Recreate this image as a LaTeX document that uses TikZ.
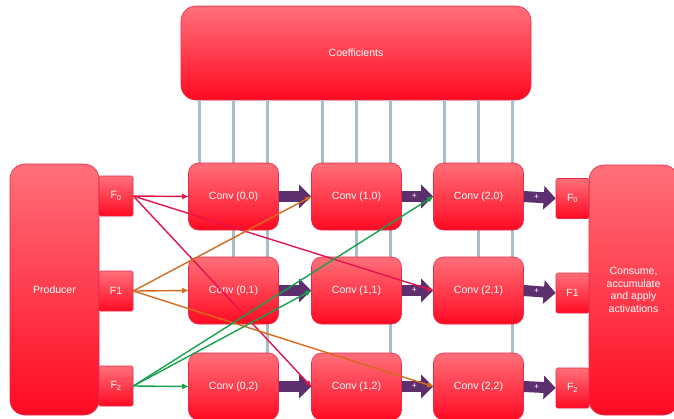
\documentclass[tikz,border=0pt]{standalone}
\usepackage{fontspec}
\setmainfont{Liberation Sans}
\usetikzlibrary{arrows.meta}
\definecolor{boxtop}{HTML}{FF7079}
\definecolor{boxbot}{HTML}{FF0A22}
\definecolor{boxedge}{HTML}{E8294A}
\definecolor{flowpurple}{HTML}{5E2F6E}
\definecolor{feedgray}{HTML}{A8BECB}
\definecolor{lred}{HTML}{E3134B}
\definecolor{lorange}{HTML}{D46A1C}
\definecolor{lgreen}{HTML}{17A14A}
\begin{document}
\begin{tikzpicture}[x=1pt,y=-1pt,
  redbox/.style={draw=boxedge, line width=0.6pt, top color=boxtop, bottom color=boxbot, text=white, inner sep=0pt, align=center, font=\fontsize{10.5}{12.5}\selectfont},
  convbox/.style={redbox, rounded corners=10pt, minimum width=90pt, minimum height=67pt},
  bigbox/.style={redbox, rounded corners=15pt},
  fbox/.style={redbox, rounded corners=1.5pt, minimum width=34pt, minimum height=40pt},
  feed/.style={draw=feedgray, line width=2.2pt, -{Triangle[length=5pt,width=6pt]}},
  flow/.style={draw=flowpurple, line width=11pt, -{Triangle[length=12pt,width=23pt]}},
  plus/.style={text=white, font=\fontsize{8.5}{9}\selectfont, inner sep=0pt},
  link/.style={line width=1.4pt, -{Triangle[length=6pt,width=5pt]}}
]
\useasboundingbox (0,0) rectangle (674,418);
\begin{scope}
\clip (0,0) rectangle (674,418);
% big boxes
\node[bigbox, minimum width=350pt, minimum height=94pt] (coef) at (356,53) {Coefficients};
\node[bigbox, minimum width=89pt, minimum height=251pt] (prod) at (54.5,289.5) {Producer};
\node[bigbox, minimum width=89pt, minimum height=250pt] (cons) at (633.5,290) {Consume,\\accumulate\\and apply\\activations};
% conv positions
\foreach \c/\x in {0/233.5,1/356.5,2/478.5}{
  \foreach \r/\y in {0/196.5,1/290.5,2/386.5}{
    \path (\x,\y) coordinate (p\c\r);
  }
}
% feed lines from coefficients
\foreach \c in {0,1,2}{
  \coordinate (ga\c) at ([xshift=-34pt,yshift=-33.5pt]p\c0);
  \coordinate (gb\c) at ([yshift=-33.5pt]p\c1);
  \coordinate (gc\c) at ([xshift=34pt,yshift=-33.5pt]p\c2);
  \draw[feed] (ga\c |- coef.south) -- (ga\c);
  \draw[feed] (gb\c |- coef.south) -- (gb\c);
  \draw[feed] (gc\c |- coef.south) -- (gc\c);
}
% conv boxes
\foreach \c in {0,1,2}{
  \foreach \r in {0,1,2}{
    \node[convbox] (c\c\r) at (p\c\r) {Conv (\c,\r)};
  }
}
% producer F boxes
\node[fbox] (pf0) at (116,196) {F\textsubscript{0}};
\node[fbox] (pf1) at (116,291) {F1};
\node[fbox] (pf2) at (116,386) {F\textsubscript{2}};
% consumer F boxes
\node[fbox, minimum width=33pt] (cf0) at (572.5,198.5) {F\textsubscript{0}};
\node[fbox, minimum width=33pt] (cf1) at (572.5,293) {F1};
\node[fbox, minimum width=33pt] (cf2) at (572.5,388) {F\textsubscript{2}};
% purple flow arrows
\foreach \r in {0,1,2}{
  \draw[flow] (c0\r.east) -- (c1\r.west);
  \draw[flow] (c1\r.east) -- node[plus, pos=0.4] {+} (c2\r.west);
  \draw[flow] (c2\r.east) -- node[plus, pos=0.4] {+} (cf\r.west);
}
% coloured links
\draw[link, lred] (pf0.east) -- (c00.west);
\draw[link, lred] (pf0.east) -- (c12.west);
\draw[link, lred] (pf0.east) -- (c21.west);
\draw[link, lorange] (pf1.east) -- (c01.west);
\draw[link, lorange] (pf1.east) -- (c10.west);
\draw[link, lorange] (pf1.east) -- (c22.west);
\draw[link, lgreen] (pf2.east) -- (c02.west);
\draw[link, lgreen] (pf2.east) -- (c11.west);
\draw[link, lgreen] (pf2.east) -- (c20.west);
\end{scope}
\end{tikzpicture}
\end{document}
